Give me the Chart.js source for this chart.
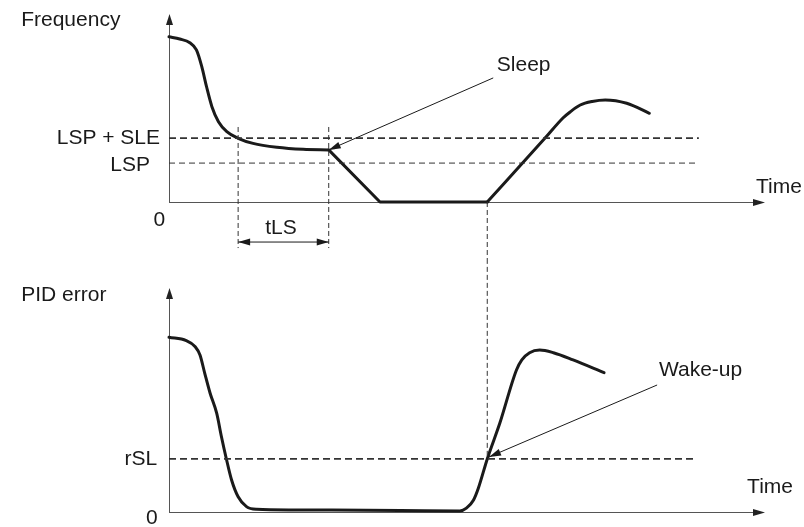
<!DOCTYPE html>
<html>
<head>
<meta charset="utf-8">
<script src="https://cdn.jsdelivr.net/npm/chart.js@4.4.1/dist/chart.umd.min.js"></script>
<style>
  body { margin: 0; background: #fff; }
  canvas { position: absolute; left: 0; }
  #freqChart { top: 0; }
  #pidChart { top: 260px; }
</style>
</head>
<body>
<canvas id="freqChart" width="804" height="260"></canvas>
<canvas id="pidChart" width="804" height="267"></canvas>
<script>
// time runs 0..100 along both plots, values are % of the drawn axis height

// frequency: fall towards LSP, sleep ramp, then restart after wake-up
const freqFallX = [0, 1.8, 3.5, 4.6, 5.5, 6.3, 7.2, 8.3, 9.7, 11.6, 14.1, 18.1, 22.5, 26.8];
const freqFallY = [87.9, 86.7, 84.7, 80.9, 72.0, 61.3, 50.7, 42.7, 37.4, 33.9, 31.2, 29.1, 28.0, 27.7];
const freqSleepX = [26.8, 35.4, 53.4];
const freqSleepY = [27.7, 0, 0];
const freqWakeX = [53.4, 63.1, 66.1, 67.3, 69.0, 71.0, 73.2, 76.8, 80.6];
const freqWakeY = [0, 34.0, 44.7, 47.9, 51.6, 53.5, 54.3, 52.5, 47.2];

// PID error
const pidX = [0, 2.9, 4.4, 5.2, 6.0, 6.9, 8.0, 8.8, 9.6, 10.5, 11.6, 13.0, 14.7, 20.9, 38.8, 48.8,
  49.9, 51.1, 51.9, 53.4, 55.5, 58.3, 59.2, 60.5, 62.2, 64.5, 67.8, 73.0];
const pidY = [78.0, 76.5, 73.8, 70.1, 61.9, 53.0, 44.1, 33.6, 24.0, 14.3, 6.8, 2.4, 1.2, 0.9, 0.7, 0.45,
  1.7, 5.4, 10.6, 23.7, 39.6, 63.4, 67.9, 71.1, 72.3, 71.1, 67.9, 62.2];

// thresholds
const LSP = 20.7;
const LSP_SLE = 34.0;
const RSL = 23.7;
const tLSStart = 11.6;
const tLSEnd = 26.8;
const wakeTime = 53.4;

const pts = (xs, ys) => xs.map((x, i) => ({ x: x, y: ys[i] }));

const ink = '#1a1a1a';

function curve(data, mode) {
  return {
    data: data,
    borderColor: ink,
    borderWidth: 3,
    pointRadius: 0,
    borderCapStyle: 'round',
    borderJoinStyle: 'round',
    cubicInterpolationMode: mode || 'default',
    tension: 0,
    clip: false,
  };
}
function dashed(data, width, dash) {
  return {
    data: data,
    borderColor: '#333',
    borderWidth: width,
    borderDash: dash,
    pointRadius: 0,
    tension: 0,
    clip: false,
  };
}

function head(ctx, x, y, ang, len, hw) {
  const c = Math.cos(ang), s = Math.sin(ang);
  ctx.beginPath();
  ctx.moveTo(x, y);
  ctx.lineTo(x - len * c + hw * s, y - len * s - hw * c);
  ctx.lineTo(x - len * c - hw * s, y - len * s + hw * c);
  ctx.closePath();
  ctx.fill();
}

// axes with arrowheads + annotations, placed through the chart scales
const diagram = {
  id: 'diagram',
  beforeDatasetsDraw(chart, args, opts) {
    const ctx = chart.ctx, xs = chart.scales.x, ys = chart.scales.y;
    const x0 = xs.getPixelForValue(0), y0 = ys.getPixelForValue(0);
    const xt = xs.getPixelForValue(100), yt = ys.getPixelForValue(100);
    ctx.save();
    ctx.strokeStyle = '#555';
    ctx.fillStyle = '#222';
    ctx.lineWidth = 1;
    ctx.beginPath();
    ctx.moveTo(x0 + 0.5, y0);
    ctx.lineTo(x0 + 0.5, yt + 8);
    ctx.moveTo(x0, y0 + 0.5);
    ctx.lineTo(xt - 8, y0 + 0.5);
    ctx.stroke();
    head(ctx, x0 + 0.5, yt, -Math.PI / 2, 11, 3.5);
    head(ctx, xt, y0 + 0.5, 0, 12, 3.5);
    ctx.restore();
  },
  afterDatasetsDraw(chart, args, opts) {
    const ctx = chart.ctx, xs = chart.scales.x, ys = chart.scales.y;
    const px = v => xs.getPixelForValue(v), py = v => ys.getPixelForValue(v);
    ctx.save();
    ctx.strokeStyle = ink;
    ctx.fillStyle = ink;
    ctx.lineWidth = 1;
    (opts.arrows || []).forEach(a => {
      const x1 = px(a.from[0]), y1 = py(a.from[1]), x2 = px(a.to[0]), y2 = py(a.to[1]);
      ctx.beginPath();
      ctx.moveTo(x1, y1);
      ctx.lineTo(x2, y2);
      ctx.stroke();
      const ang = Math.atan2(y2 - y1, x2 - x1);
      head(ctx, x2, y2, ang, 12, 3.5);
      if (a.both) head(ctx, x1, y1, ang + Math.PI, 12, 3.5);
    });
    ctx.font = '21px "Liberation Sans", Arial, sans-serif';
    ctx.textBaseline = 'middle';
    (opts.labels || []).forEach(l => {
      ctx.textAlign = l.align;
      ctx.fillText(l.text, px(l.x), py(l.y));
    });
    ctx.restore();
  }
};

function baseOptions(padding, plugin) {
  return {
    responsive: false,
    animation: false,
    events: [],
    layout: { padding: padding },
    scales: {
      x: { type: 'linear', min: 0, max: 100, display: false },
      y: { type: 'linear', min: 0, max: 100, display: false },
    },
    plugins: { legend: { display: false }, tooltip: { enabled: false }, diagram: plugin },
  };
}

new Chart(document.getElementById('freqChart'), {
  type: 'line',
  data: {
    datasets: [
      dashed([{ x: 0, y: LSP_SLE }, { x: 88.9, y: LSP_SLE }], 1.6, [7, 4]),
      dashed([{ x: 0, y: LSP }, { x: 88.6, y: LSP }], 1, [6, 4]),
      dashed([{ x: tLSStart, y: 39.9 }, { x: tLSStart, y: -24.5 }], 1, [5, 3]),
      dashed([{ x: tLSEnd, y: 39.9 }, { x: tLSEnd, y: -24.5 }], 1, [5, 3]),
      dashed([{ x: wakeTime, y: 0 }, { x: wakeTime, y: -31 }], 1, [5, 3]),
      curve(pts(freqFallX, freqFallY), 'monotone'),
      curve(pts(freqSleepX, freqSleepY)),
      curve(pts(freqWakeX, freqWakeY), 'monotone'),
    ],
  },
  options: baseOptions({ left: 169, right: 39, top: 14, bottom: 58 }, {
    arrows: [
      { from: [54.4, 66.0], to: [26.8, 27.7] },
      { from: [tLSStart, -21.3], to: [tLSEnd, -21.3], both: true },
    ],
    labels: [
      { text: 'Frequency', x: -24.8, y: 96.8, align: 'left' },
      { text: 'LSP + SLE', x: -1.5, y: LSP_SLE, align: 'right' },
      { text: 'LSP', x: -3.2, y: 19.7, align: 'right' },
      { text: '0', x: -1.6, y: -9.6, align: 'center' },
      { text: 'tLS', x: 18.8, y: -13.8, align: 'center' },
      { text: 'Sleep', x: 55.0, y: 72.9, align: 'left' },
      { text: 'Time', x: 98.5, y: 8.0, align: 'left' },
    ],
  }),
  plugins: [diagram],
});

new Chart(document.getElementById('pidChart'), {
  type: 'line',
  data: {
    datasets: [
      dashed([{ x: 0, y: RSL }, { x: 88.3, y: RSL }], 1.6, [7, 4]),
      dashed([{ x: wakeTime, y: 113 }, { x: wakeTime, y: RSL }], 1, [5, 3]),
      curve(pts(pidX, pidY), 'monotone'),
    ],
  },
  options: baseOptions({ left: 169, right: 39, top: 28, bottom: 15 }, {
    arrows: [
      { from: [81.9, 56.7], to: [53.7, 24.6] },
    ],
    labels: [
      { text: 'PID error', x: -24.8, y: 96.9, align: 'left' },
      { text: 'rSL', x: -2.0, y: RSL, align: 'right' },
      { text: '0', x: -2.9, y: -2.7, align: 'center' },
      { text: 'Time', x: 97.0, y: 11.2, align: 'left' },
      { text: 'Wake-up', x: 82.2, y: 63.4, align: 'left' },
    ],
  }),
  plugins: [diagram],
});
</script>
</body>
</html>
